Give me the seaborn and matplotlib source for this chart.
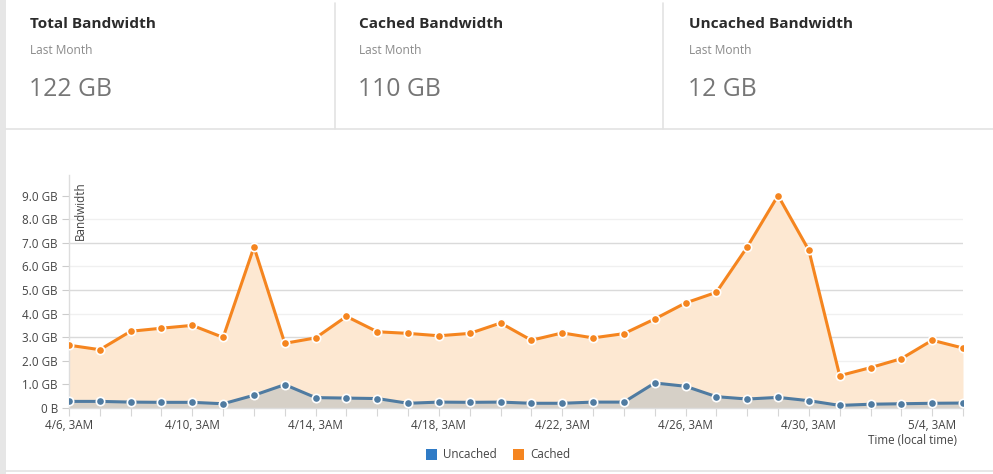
import matplotlib
matplotlib.use("Agg")
import matplotlib.pyplot as plt
from matplotlib.lines import Line2D
from matplotlib.patches import Patch, Rectangle
import seaborn as sns
import pandas as pd

# ---- data -------------------------------------------------------------
day_labels = [
    "4/6, 3AM", "4/7, 3AM", "4/8, 3AM", "4/9, 3AM", "4/10, 3AM",
    "4/11, 3AM", "4/12, 3AM", "4/13, 3AM", "4/14, 3AM", "4/15, 3AM",
    "4/16, 3AM", "4/17, 3AM", "4/18, 3AM", "4/19, 3AM", "4/20, 3AM",
    "4/21, 3AM", "4/22, 3AM", "4/23, 3AM", "4/24, 3AM", "4/25, 3AM",
    "4/26, 3AM", "4/27, 3AM", "4/28, 3AM", "4/29, 3AM", "4/30, 3AM",
    "5/1, 3AM", "5/2, 3AM", "5/3, 3AM", "5/4, 3AM", "5/5, 3AM",
]
cached_gb = [
    2.66, 2.47, 3.25, 3.38, 3.50, 2.99, 6.82, 2.74, 2.97, 3.88,
    3.23, 3.16, 3.06, 3.16, 3.60, 2.87, 3.18, 2.97, 3.15, 3.77,
    4.45, 4.90, 6.82, 9.00, 6.68, 1.37, 1.71, 2.09, 2.87, 2.54,
]
uncached_gb = [
    0.28, 0.28, 0.25, 0.24, 0.24, 0.18, 0.54, 0.99, 0.44, 0.42,
    0.40, 0.20, 0.25, 0.24, 0.25, 0.20, 0.20, 0.25, 0.25, 1.06,
    0.92, 0.48, 0.38, 0.45, 0.31, 0.11, 0.16, 0.18, 0.20, 0.21,
]
y_ticks = [0, 1, 2, 3, 4, 5, 6, 7, 8, 9]
y_tick_labels = ["0 B", "1.0 GB", "2.0 GB", "3.0 GB", "4.0 GB", "5.0 GB",
                 "6.0 GB", "7.0 GB", "8.0 GB", "9.0 GB"]
label_every = 4

cards = [
    ("Total Bandwidth", "Last Month", "122 GB"),
    ("Cached Bandwidth", "Last Month", "110 GB"),
    ("Uncached Bandwidth", "Last Month", "12 GB"),
]

ORANGE = "#f5851f"
ORANGE_FILL = "#fde8d2"
BLUE = "#4f7ba1"
BLUE_LEGEND = "#2f7bc6"

# ---- styling ----------------------------------------------------------
sns.set_theme(style="white")
plt.rcParams["font.family"] = ["Open Sans", "DejaVu Sans"]

W, H = 993, 474
fig = plt.figure(figsize=(W / 100, H / 100), dpi=100)


def fx(px):
    return px / W


def fy(py):
    return 1 - py / H


# card frame lines
fig.add_artist(Rectangle((0, 0), fx(6), 1, transform=fig.transFigure,
                         color="#e6e6e6", lw=0))
fig.add_artist(Line2D([fx(6), 1], [fy(129), fy(129)], transform=fig.transFigure,
                      color="#e3e3e3", lw=1.2))
fig.add_artist(Line2D([fx(6), 1], [fy(471), fy(471)], transform=fig.transFigure,
                      color="#e3e3e3", lw=1.2))
for sx in (335, 663):
    fig.add_artist(Line2D([fx(sx), fx(sx)], [fy(3), fy(129)],
                          transform=fig.transFigure, color="#e3e3e3", lw=1.2))

# summary cards
for (title, sub, value), x0 in zip(cards, (30, 359, 689)):
    fig.text(fx(x0), fy(24), title, fontsize=11.1, fontweight="bold",
             color="#2b2b2b", va="center", ha="left")
    fig.text(fx(x0), fy(50), sub, fontsize=8.6, color="#8a8a8a",
             va="center", ha="left")
    fig.text(fx(x0 - 1), fy(89), value, fontsize=17.8, color="#767676",
             va="center", ha="left")

# ---- chart ------------------------------------------------------------
ax = fig.add_axes([fx(69), fy(408), fx(963) - fx(69), fy(175) - fy(408)])

df = pd.DataFrame({
    "idx": list(range(len(day_labels))) * 2,
    "gb": cached_gb + uncached_gb,
    "series": ["Cached"] * len(cached_gb) + ["Uncached"] * len(uncached_gb),
})

ax.fill_between(range(len(cached_gb)), 0, cached_gb, color=ORANGE_FILL,
                lw=0, zorder=1)
ax.fill_between(range(len(uncached_gb)), 0, uncached_gb, color=BLUE,
                alpha=0.22, lw=0, zorder=1.1)

sns.lineplot(data=df, x="idx", y="gb", hue="series",
             palette={"Cached": ORANGE, "Uncached": BLUE},
             marker="o", markersize=6.0, markeredgecolor="white",
             markeredgewidth=1.2, linewidth=2.2, legend=False, ax=ax,
             zorder=3)

ax.set_xlim(0, len(day_labels) - 1)
ax.set_ylim(0, 9.87)
ax.set_xlabel("")
ax.set_ylabel("")

ax.set_yticks(y_ticks)
ax.set_yticklabels(y_tick_labels)
ax.set_xticks(range(len(day_labels)))
ax.set_xticklabels([lab if i % label_every == 0 else ""
                    for i, lab in enumerate(day_labels)])

ax.tick_params(axis="y", which="both", left=True, length=5, width=0.8,
               color="#cccccc", labelsize=8.4, labelcolor="#444444", pad=3)
ax.tick_params(axis="x", which="both", bottom=True, length=6, width=0.8,
               color="#d6d6d6", labelsize=8.4, labelcolor="#444444", pad=2)

ax.yaxis.grid(True)
for val, gl in zip(y_ticks, ax.get_ygridlines()):
    if val == 0 or val == 9:
        gl.set_visible(False)
    else:
        gl.set_color("#dadada" if val % 2 == 1 else "#f0f0f0")
        gl.set_linewidth(1.0)
ax.xaxis.grid(False)

for side in ("top", "right"):
    ax.spines[side].set_visible(False)
ax.spines["left"].set_color("#dddddd")
ax.spines["left"].set_linewidth(1.0)
ax.spines["bottom"].set_color("#dddddd")
ax.spines["bottom"].set_linewidth(1.0)

fig.text(fx(80), fy(181), "Bandwidth", rotation=90, fontsize=8.4,
         color="#444444", ha="center", va="top")
fig.text(fx(957), fy(441), "Time (local time)", fontsize=8.4,
         color="#444444", ha="right", va="center")

handles = [Patch(facecolor=BLUE_LEGEND, edgecolor="none", label="Uncached"),
           Patch(facecolor=ORANGE, edgecolor="none", label="Cached")]
fig.legend(handles=handles, loc="center", bbox_to_anchor=(fx(498), fy(455)),
           ncol=2, frameon=False, fontsize=8.4, handlelength=0.95,
           handleheight=0.95, handletextpad=0.5, columnspacing=1.4,
           labelcolor="#444444")

fig.savefig("out.png", dpi=100, facecolor="white")
